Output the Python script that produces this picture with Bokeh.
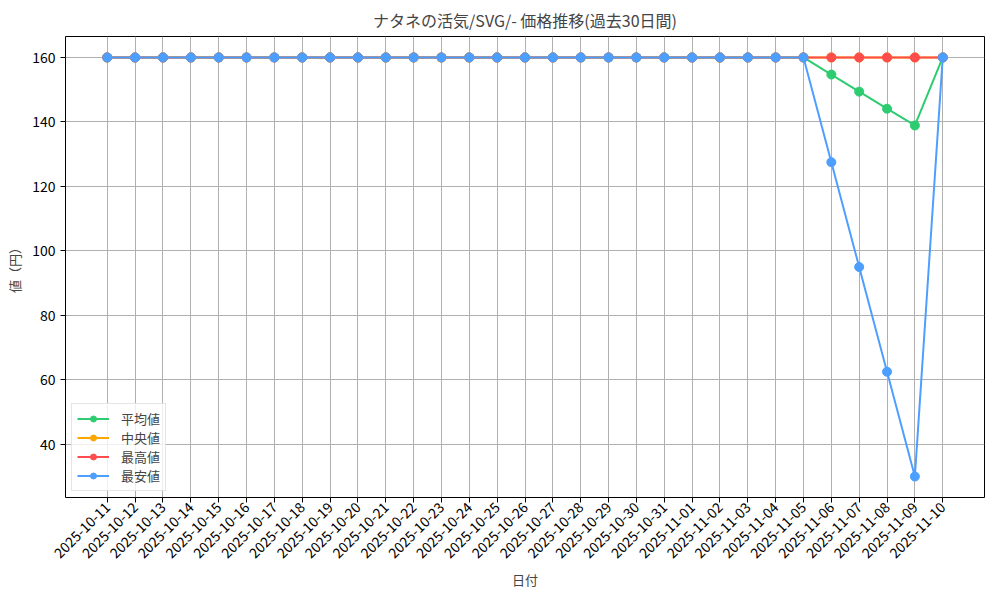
from math import pi

from bokeh.embed import file_html
from bokeh.models import FixedTicker, Range1d
from bokeh.plotting import figure
from bokeh.resources import INLINE

dates = [
    '2025-10-11', '2025-10-12', '2025-10-13', '2025-10-14', '2025-10-15',
    '2025-10-16', '2025-10-17', '2025-10-18', '2025-10-19', '2025-10-20',
    '2025-10-21', '2025-10-22', '2025-10-23', '2025-10-24', '2025-10-25',
    '2025-10-26', '2025-10-27', '2025-10-28', '2025-10-29', '2025-10-30',
    '2025-10-31', '2025-11-01', '2025-11-02', '2025-11-03', '2025-11-04',
    '2025-11-05', '2025-11-06', '2025-11-07', '2025-11-08', '2025-11-09',
    '2025-11-10']

avg_price = [160] * 26 + [154.7, 149.4, 144.1, 138.9, 160]
median_price = [160] * 31
max_price = [160] * 31
min_price = [160] * 26 + [127.5, 95, 62.5, 30, 160]

FONT = 'Noto Sans CJK JP'

x = list(range(len(dates)))

p = figure(
    frame_width=919, frame_height=461,
    output_backend='svg', toolbar_location=None,
    title='ナタネの活気/SVG/- 価格推移(過去30日間)',
    x_axis_label='日付', y_axis_label='値（円）',
    x_range=Range1d(-1.5, 31.5), y_range=Range1d(23.5, 166.5),
    min_border_left=65, min_border_right=7,
    min_border_top=30, min_border_bottom=94)

series = [
    (avg_price, '#2ecc71', '平均値'),
    (median_price, '#ffa500', '中央値'),
    (max_price, '#ff4d4d', '最高値'),
    (min_price, '#4d9fff', '最安値'),
]
for ys, color, name in series:
    p.line(x, ys, color=color, line_width=2, legend_label=name)
    p.scatter(x, ys, color=color, size=9, legend_label=name)

p.title.align = 'center'
p.title.text_font = FONT
p.title.text_font_size = '16px'
p.title.text_font_style = 'normal'

p.xaxis.ticker = FixedTicker(ticks=x)
p.xaxis.major_label_overrides = {i: d for i, d in zip(x, dates)}
p.xaxis.major_label_orientation = pi / 4
p.xaxis.major_label_standoff = 2
p.xaxis.axis_label_standoff = 4
p.yaxis.ticker = FixedTicker(ticks=[40, 60, 80, 100, 120, 140, 160])

for ax in p.axis:
    ax.major_label_text_font = FONT
    ax.major_label_text_font_size = '14px'
    ax.major_label_text_color = 'black'
    ax.axis_label_text_font = FONT
    ax.axis_label_text_font_size = '13px'
    ax.axis_label_text_font_style = 'normal'
    ax.axis_line_color = None
    ax.major_tick_line_color = 'black'
    ax.major_tick_in = 0
    ax.major_tick_out = 5
    ax.minor_tick_line_color = None

p.outline_line_color = 'black'
p.outline_line_width = 1
p.xgrid.grid_line_color = '#b0b0b0'
p.ygrid.grid_line_color = '#b0b0b0'
p.xgrid.grid_line_width = 1
p.ygrid.grid_line_width = 1

p.legend.location = 'bottom_left'
p.legend.label_text_font = FONT
p.legend.label_text_font_size = '13px'
p.legend.border_line_color = '#cccccc'
p.legend.background_fill_alpha = 0.8
p.legend.glyph_width = 32
p.legend.label_standoff = 12
p.legend.label_height = 15
p.legend.glyph_height = 15
p.legend.spacing = 0
p.legend.padding = 5
p.legend.margin = 6

open('out.html', 'w').write(file_html(p, INLINE))
